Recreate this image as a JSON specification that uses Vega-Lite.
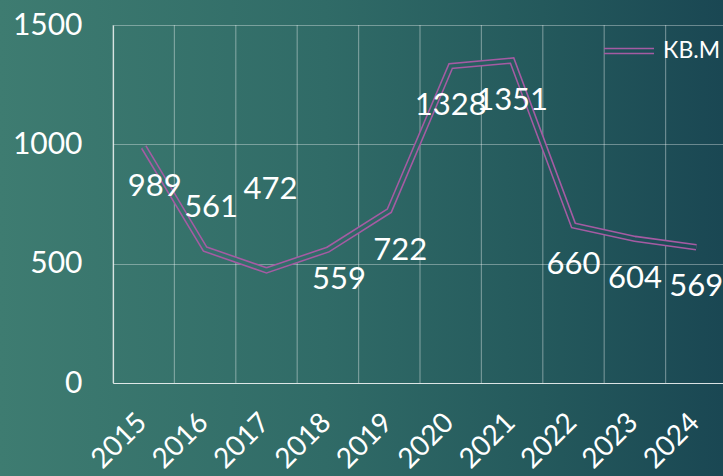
{
  "$schema": "https://vega.github.io/schema/vega-lite/v6.json",
  "width": 723,
  "height": 476,
  "autosize": {"type": "none"},
  "padding": 0,
  "background": "#2d6663",
  "config": {
    "view": {"stroke": null, "fill": {"gradient": "linear", "x1": 0, "y1": 0, "x2": 1, "y2": 0, "stops": [{"offset": 0, "color": "#3e7c71"}, {"offset": 0.45, "color": "#306b67"}, {"offset": 0.75, "color": "#24595c"}, {"offset": 1, "color": "#1a4753"}]}},
    "font": "Lato"
  },
  "data": {"values": [
    {"year": "2015", "value": 989, "series": "КВ.М"},
    {"year": "2016", "value": 561, "series": "КВ.М"},
    {"year": "2017", "value": 472, "series": "КВ.М"},
    {"year": "2018", "value": 559, "series": "КВ.М"},
    {"year": "2019", "value": 722, "series": "КВ.М"},
    {"year": "2020", "value": 1328, "series": "КВ.М"},
    {"year": "2021", "value": 1351, "series": "КВ.М"},
    {"year": "2022", "value": 660, "series": "КВ.М"},
    {"year": "2023", "value": 604, "series": "КВ.М"},
    {"year": "2024", "value": 569, "series": "КВ.М"}
  ]},
  "encoding": {
    "x": {
      "field": "year", "type": "ordinal", "bandPosition": 0.5,
      "scale": {"type": "band", "paddingInner": 0, "paddingOuter": 0, "range": [113, 727]},
      "axis": {
        "title": null, "offset": -93, "grid": false,
        "ticks": false, "domain": true, "domainColor": "#ffffff", "domainOpacity": 0.75, "domainWidth": 1.2,
        "labelAngle": -45, "labelAlign": "right", "labelBaseline": "middle", "labelOffset": -1, "labelPadding": 35,
        "labelColor": "#ffffff", "labelFontSize": 28, "labelFont": "Lato", "labelOverlap": false, "labelBound": false
      }
    },
    "y": {
      "field": "value", "type": "quantitative",
      "scale": {"domain": [0, 1500], "nice": false, "range": [383, 25]},
      "axis": {
        "title": null, "offset": -113, "values": [0, 500, 1000, 1500], "format": "d", "grid": true, "gridColor": "#ffffff", "gridOpacity": 0.35, "gridWidth": 1.2,
        "ticks": false, "domain": true, "domainColor": "#ffffff", "domainOpacity": 0.75, "domainWidth": 1.2,
        "labelPadding": 31, "labelColor": "#ffffff", "labelFontSize": 30, "labelFont": "Lato", "labelBaseline": "middle"
      }
    }
  },
  "layer": [
    {
      "mark": {"type": "rule", "color": "#ffffff", "opacity": 0.35, "strokeWidth": 1.2},
      "encoding": {
        "x": {"field": "year", "type": "ordinal", "bandPosition": 0},
        "y": {"datum": 0},
        "y2": {"datum": 1500}
      }
    },
    {
      "mark": {"type": "line", "strokeWidth": 6.5},
      "encoding": {
        "color": {
          "field": "series", "type": "nominal", "scale": {"range": ["#a55ba3"]},
          "legend": {
            "title": null, "orient": "none", "legendX": 603, "legendY": 25, "padding": 0,
            "symbolType": "M-1,-0.1L1,-0.1M-1,0.1L1,0.1", "symbolSize": 2500, "symbolStrokeWidth": 1.6,
            "labelFontSize": 23, "labelColor": "#ffffff", "labelFont": "Lato", "labelOffset": 8
          }
        }
      }
    },
    {
      "mark": {"type": "line", "strokeWidth": 3.4, "stroke": {"gradient": "linear", "x1": 0, "y1": 0, "x2": 1, "y2": 0, "stops": [{"offset": 0, "color": "#387570"}, {"offset": 0.33, "color": "#306b67"}, {"offset": 0.72, "color": "#24595c"}, {"offset": 1, "color": "#1c4a55"}]}},
      "encoding": {}
    },
    {
      "transform": [{"filter": {"field": "year", "oneOf": ["2020", "2021", "2022", "2023", "2024"]}}],
      "mark": {"type": "text", "fontSize": 31, "color": "#ffffff", "baseline": "middle", "align": "center", "dy": 40},
      "encoding": {"text": {"field": "value", "type": "quantitative"}}
    },
    {
      "transform": [{"filter": {"field": "year", "oneOf": ["2015", "2019"]}}],
      "mark": {"type": "text", "fontSize": 31, "color": "#ffffff", "baseline": "middle", "align": "center", "dx": 11, "dy": 40},
      "encoding": {"text": {"field": "value", "type": "quantitative"}}
    },
    {
      "transform": [{"filter": {"field": "year", "equal": "2016"}}],
      "mark": {"type": "text", "fontSize": 31, "color": "#ffffff", "baseline": "middle", "align": "center", "dx": 6, "dy": -41},
      "encoding": {"text": {"field": "value", "type": "quantitative"}}
    },
    {
      "transform": [{"filter": {"field": "year", "equal": "2017"}}],
      "mark": {"type": "text", "fontSize": 31, "color": "#ffffff", "baseline": "middle", "align": "center", "dx": 4, "dy": -80},
      "encoding": {"text": {"field": "value", "type": "quantitative"}}
    },
    {
      "transform": [{"filter": {"field": "year", "equal": "2018"}}],
      "mark": {"type": "text", "fontSize": 31, "color": "#ffffff", "baseline": "middle", "align": "center", "dx": 11, "dy": 30},
      "encoding": {"text": {"field": "value", "type": "quantitative"}}
    }
  ]
}
